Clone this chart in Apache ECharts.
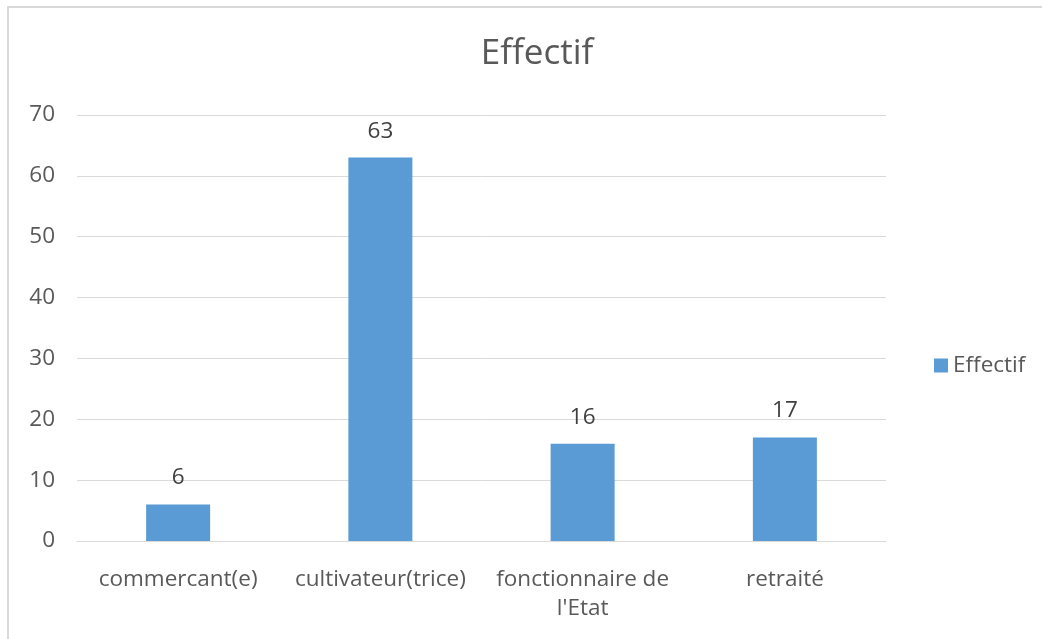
<!DOCTYPE html>
<html>
<head>
<meta charset="utf-8">
<script src="https://cdn.jsdelivr.net/npm/echarts@6/dist/echarts.min.js"></script>
<style>
html,body{margin:0;padding:0;background:#fff;}
#frame{position:absolute;left:7px;top:6px;width:1040px;height:640px;border:2px solid #d9d9d9;box-sizing:border-box;}
#c{position:absolute;left:0;top:0;width:1042px;height:639px;}
</style>
</head>
<body>
<div id="frame"></div>
<div id="c"></div>
<script>
const categories = ["commercant(e)", "cultivateur(trice)", "fonctionnaire de l'Etat", "retraité"];
const values = [6, 63, 16, 17];
const seriesName = "Effectif";
const yTicks = { min: 0, max: 70, interval: 10 };

const font = "'Open Sans', sans-serif";
const fs = 22.5;
const chart = echarts.init(document.getElementById('c'), null, {renderer:'canvas'});
chart.setOption({
  animation: false,
  title: { text: seriesName, left: 532, textAlign: 'center', top: 32,
    textStyle: { fontFamily: font, fontSize: 35, fontWeight: 'normal', color: '#595959' } },
  legend: { data: [seriesName], left: 929, top: 349, orient: 'vertical', itemWidth: 14, itemHeight: 14, itemGap: 6,
    icon: 'rect', textStyle: { fontFamily: font, fontSize: fs, color: '#595959' } },
  grid: { left: 77, right: 156, top: 115, bottom: 98 },
  xAxis: { type: 'category', data: categories,
    axisLine: { lineStyle: { color: '#d9d9d9', width: 1 } }, axisTick: { show: false },
    axisLabel: { fontFamily: font, fontSize: fs, color: '#595959', margin: 24, lineHeight: 29, interval: 0,
      formatter: v => v.replace(' de ', ' de\n') } },
  yAxis: { type: 'value', min: yTicks.min, max: yTicks.max, interval: yTicks.interval,
    axisLine: { show: false }, axisTick: { show: false },
    splitLine: { lineStyle: { color: '#d9d9d9', width: 1 } },
    axisLabel: { fontFamily: font, fontSize: fs, color: '#595959', margin: 22 } },
  series: [{ name: seriesName, type: 'bar', data: values, barWidth: 64,
    itemStyle: { color: '#5b9bd5' },
    label: { show: true, position: 'top', distance: 15, fontFamily: font, fontSize: fs, color: '#404040' } }]
});
</script>
</body>
</html>
